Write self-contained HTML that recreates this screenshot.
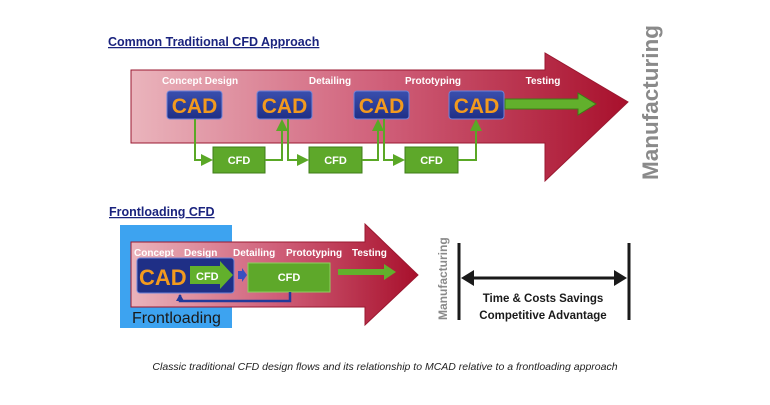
<!DOCTYPE html>
<html><head><style>
body{margin:0;background:#fff;width:770px;height:400px;overflow:hidden;font-family:"Liberation Sans",sans-serif}
</style></head><body>
<svg width="770" height="400" xmlns="http://www.w3.org/2000/svg" font-family="Liberation Sans, sans-serif">
<defs>
<linearGradient id="rg" x1="0" x2="1" y1="0" y2="0">
<stop offset="0" stop-color="#eab4bc"/><stop offset="0.5" stop-color="#d0607a"/><stop offset="1" stop-color="#a8102c"/>
</linearGradient>
<linearGradient id="cad" x1="0" x2="0" y1="0" y2="1"><stop offset="0" stop-color="#3a4fae"/><stop offset="1" stop-color="#1f2f86"/></linearGradient>
<marker id="ga" markerWidth="6" markerHeight="6" refX="5" refY="3" orient="auto"><path d="M0,0 L6,3 L0,6Z" fill="#5aa826"/></marker>
<marker id="ba" markerUnits="userSpaceOnUse" markerWidth="8" markerHeight="8" refX="6" refY="4" orient="auto"><path d="M0,0 L7,4 L0,8Z" fill="#223a9a"/></marker>
</defs>
<text x="108" y="46" font-size="12.5" font-weight="bold" fill="#1a237e" text-decoration="underline">Common Traditional CFD Approach</text>
<path d="M131,70 L545,70 L545,53 L628,102 L545,181 L545,143 L131,143Z" fill="url(#rg)" stroke="#9a1830" stroke-width="1"/>
<g font-size="10" font-weight="bold" fill="#fff" text-anchor="middle">
<text x="200" y="84">Concept Design</text><text x="330" y="84">Detailing</text><text x="433" y="84">Prototyping</text><text x="543" y="84">Testing</text></g>
<g fill="url(#cad)" stroke="#6f83d8" stroke-width="1">
<rect x="167" y="91" width="55" height="28" rx="3"/><rect x="257" y="91" width="55" height="28" rx="3"/><rect x="354" y="91" width="55" height="28" rx="3"/><rect x="449" y="91" width="55" height="28" rx="3"/></g>
<g font-size="21" font-weight="bold" fill="#f39a1e" text-anchor="middle">
<text x="194.5" y="113">CAD</text><text x="284.5" y="113">CAD</text><text x="381.5" y="113">CAD</text><text x="476.5" y="113">CAD</text></g>
<path d="M505,99 L578,99 L578,93 L596,104 L578,115 L578,109 L505,109Z" fill="#62b02c" stroke="#3d7c16"/>
<g fill="#5ea82a" stroke="#3f7d18">
<rect x="213" y="147" width="52" height="26"/><rect x="309" y="147" width="53" height="26"/><rect x="405" y="147" width="53" height="26"/></g>
<g font-size="11" font-weight="bold" fill="#fff" text-anchor="middle"><text x="239" y="164">CFD</text><text x="335.5" y="164">CFD</text><text x="431.5" y="164">CFD</text></g>
<g fill="none" stroke="#5aa826" stroke-width="2">
<path d="M195,119 V160 H211" marker-end="url(#ga)"/><path d="M265,160 H282 V121" marker-end="url(#ga)"/>
<path d="M288,119 V160 H307" marker-end="url(#ga)"/><path d="M362,160 H378 V121" marker-end="url(#ga)"/>
<path d="M384,119 V160 H403" marker-end="url(#ga)"/><path d="M458,160 H476 V121" marker-end="url(#ga)"/></g>
<text transform="translate(658,180) rotate(-90)" font-size="22.5" font-weight="bold" fill="#8a8a8a">Manufacturing</text>

<text x="109" y="216" font-size="12.5" font-weight="bold" fill="#1a237e" text-decoration="underline">Frontloading CFD</text>
<rect x="120" y="225" width="112" height="103" fill="#3da3f0"/>
<path d="M131,242 L365,242 L365,224 L418,275 L365,325 L365,307 L131,307Z" fill="url(#rg)" stroke="#9a1830"/>
<g font-size="10" font-weight="bold" fill="#fff"><text x="134" y="256">Concept</text><text x="184" y="256">Design</text><text x="233" y="256">Detailing</text><text x="286" y="256">Prototyping</text><text x="352" y="256">Testing</text></g>
<rect x="137" y="258" width="97" height="35" rx="3" fill="#1f2f86" stroke="#6f83d8"/>
<text x="139" y="285" font-size="22" font-weight="bold" fill="#f39a1e">CAD</text>
<path d="M190,266 L220,266 L220,261 L233,275 L220,289 L220,284 L190,284Z" fill="#62b02c"/>
<text x="196" y="280" font-size="11" font-weight="bold" fill="#fff">CFD</text>
<path d="M238,271 L242,271 L242,268 L247,275 L242,282 L242,279 L238,279Z" fill="#3a4fc0"/>
<rect x="248" y="263" width="82" height="29" fill="#5ea82a" stroke="#8ed060"/>
<text x="289" y="281" font-size="11" font-weight="bold" fill="#fff" text-anchor="middle">CFD</text>
<path d="M338,269 L384,269 L384,264 L396,272 L384,280 L384,275 L338,275Z" fill="#62b02c"/>
<path d="M290,292 V301 H180 V295" fill="none" stroke="#223a9a" stroke-width="2.5" marker-end="url(#ba)"/>
<text x="132" y="323" font-size="16" fill="#1a1a1a">Frontloading</text>
<text transform="translate(447,320) rotate(-90)" font-size="12" font-weight="bold" fill="#8a8a8a">Manufacturing</text>
<g stroke="#1a1a1a" stroke-width="3"><line x1="459" y1="243" x2="459" y2="320"/><line x1="629" y1="243" x2="629" y2="320"/>
<line x1="464" y1="278" x2="624" y2="278"/></g>
<path d="M461,278 L474,270 L474,286Z M627,278 L614,270 L614,286Z" fill="#1a1a1a"/>
<g font-size="11.5" font-weight="bold" fill="#1a1a1a" text-anchor="middle"><text x="543" y="302">Time &amp; Costs Savings</text><text x="543" y="319">Competitive Advantage</text></g>
<text x="385" y="370" font-size="10.5" font-style="italic" fill="#222" text-anchor="middle">Classic traditional CFD design flows and its relationship to MCAD relative to a frontloading approach</text>
</svg>
</body></html>
